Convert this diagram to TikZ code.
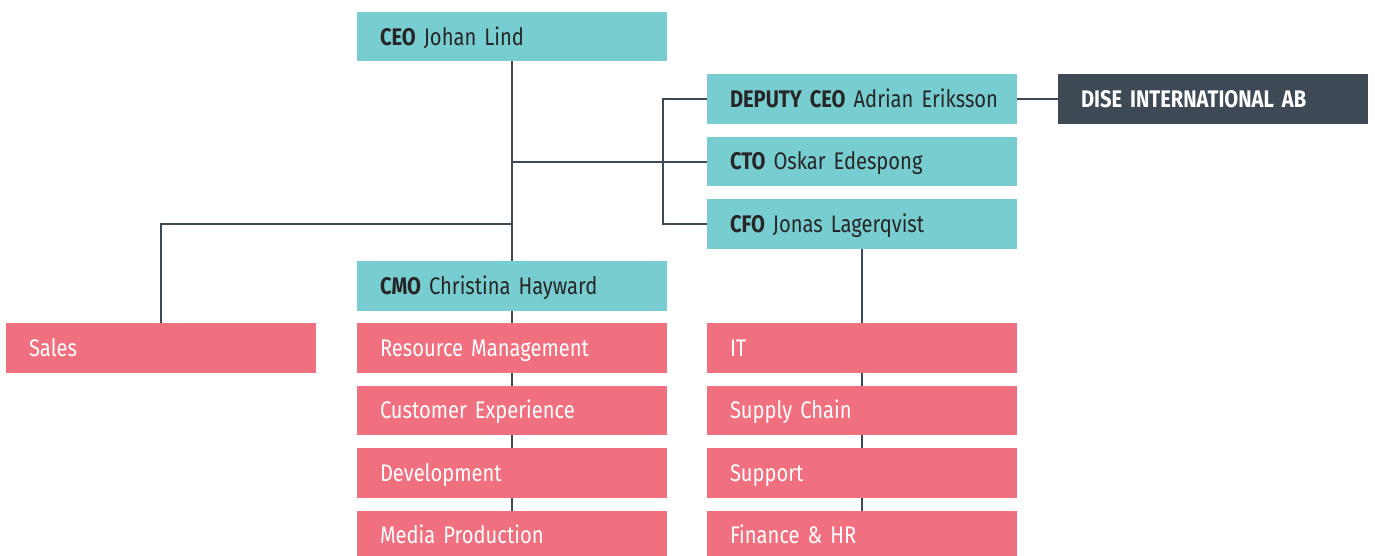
\documentclass[tikz,border=0pt]{standalone}
\usepackage{fontspec}
\setmainfont{Fira Sans}[FakeStretch=0.84, WordSpace=0.75]
\usetikzlibrary{positioning,backgrounds}
\definecolor{teal}{HTML}{78CDD0}
\definecolor{rose}{HTML}{F07080}
\definecolor{slate}{HTML}{3D4A55}

\begin{document}
\begin{tikzpicture}
   \tikzstyle{box}=[rectangle, minimum width=309.5pt, minimum height=49.5pt, outer sep=0pt, inner ysep=0pt, inner xsep=23pt, text width=263.5pt, text height=18pt, text depth=1.4pt, align=left, font=\fontsize{24}{28}\selectfont, execute at begin node={\rightskip=0pt plus 1fil minus 30pt}]
   \tikzstyle{head}=[box, fill=teal, text=black!85]
   \tikzstyle{dept}=[box, fill=rose, text=white]
   \tikzstyle{firm}=[box, fill=slate, text=white, font=\fontsize{24}{28}\selectfont\bfseries]
   \tikzstyle{link}=[draw=slate, line width=2pt]

\useasboundingbox (0,0) rectangle (1375pt,-556pt);

% management
\node[head, anchor=north west] (ceo) at (357pt,-12pt) {\textbf{CEO} Johan Lind};
\node[head, below right=12.9pt and 40.5pt of ceo.south east, anchor=north west] (deputy) {\textbf{DEPUTY CEO} Adrian Eriksson};
\node[head, below=12.9pt of deputy] (cto) {\textbf{CTO} Oskar Edespong};
\node[head, below=12.9pt of cto] (cfo) {\textbf{CFO} Jonas Lagerqvist};
\node[head, below=199.5pt of ceo] (cmo) {\textbf{CMO} Christina Hayward};
\node[firm, right=41.5pt of deputy] (dise) {DISE INTERNATIONAL AB};

% departments
\node[dept, below=12.9pt of cmo] (resource) {Resource Management};
\node[dept, below=12.9pt of resource] (customer) {Customer Experience};
\node[dept, below=12.9pt of customer] (develop) {Development};
\node[dept, below=12.9pt of develop] (media) {Media Production};
\node[dept, left=41.5pt of resource] (sales) {Sales};
\node[dept, right=40.5pt of resource] (it) {IT};
\node[dept, below=12.9pt of it] (supply) {Supply Chain};
\node[dept, below=12.9pt of supply] (support) {Support};
\node[dept, below=12.9pt of support] (finance) {Finance \& HR};

\begin{scope}[on background layer]
\draw[link] (ceo.south) -- (media.south);
\draw[link] (cfo.south) -- (finance.south);
\end{scope}
\draw[link] (ceo.south |- cto.west) -- (cto.west);
\draw[link] (deputy.west) -- ([xshift=-44pt]deputy.west) |- (cfo.west);
\draw[link] (ceo.south |- cfo.west) -| (sales.north);
\draw[link] (deputy.east) -- (dise.west);

\end{tikzpicture}
\end{document}
